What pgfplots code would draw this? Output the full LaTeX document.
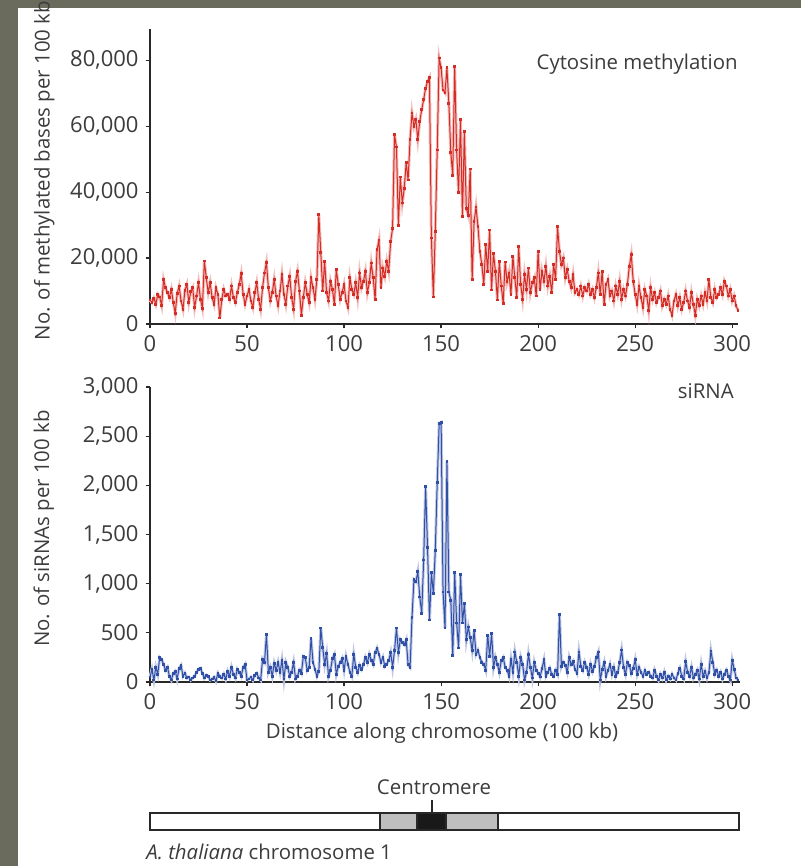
\documentclass[border=0pt]{standalone}
\usepackage{pgfplots}
\usepackage{pgfplotstable}
\pgfplotsset{compat=1.18}
\usepackage{fontspec}
\setmainfont{Open Sans}

\definecolor{mred}{RGB}{214,44,38}
\definecolor{mblue}{RGB}{48,80,168}
\definecolor{txt}{RGB}{60,60,60}
\definecolor{axline}{RGB}{40,40,40}
\definecolor{framegray}{RGB}{107,107,93}
\definecolor{cengray}{RGB}{190,190,190}

% Cytosine methylation per 100 kb window
\pgfplotstableread[row sep=\\]{
x y\\
0 7300\\ 1 6500\\ 2 7800\\ 3 6000\\ 4 9000\\ 5 8200\\ 6 5600\\ 7 13400\\ 8 11000\\ 9 9500\\
10 8000\\ 11 10500\\ 12 6500\\ 13 3300\\ 14 9200\\ 15 11500\\ 16 7000\\ 17 4500\\ 18 10200\\ 19 12000\\
20 6500\\ 21 9800\\ 22 11000\\ 23 5000\\ 24 8500\\ 25 12500\\ 26 7500\\ 27 4800\\ 28 19100\\ 29 14000\\
30 9500\\ 31 12500\\ 32 8000\\ 33 6000\\ 34 11000\\ 35 9000\\ 36 1800\\ 37 7500\\ 38 10500\\ 39 8500\\
40 9000\\ 41 7500\\ 42 11500\\ 43 8000\\ 44 6500\\ 45 9500\\ 46 12000\\ 47 15200\\ 48 9000\\ 49 6000\\
50 8500\\ 51 10500\\ 52 7000\\ 53 5000\\ 54 9500\\ 55 12500\\ 56 7500\\ 57 4500\\ 58 11000\\ 59 15500\\
60 18600\\ 61 11000\\ 62 7000\\ 63 9500\\ 64 13500\\ 65 8500\\ 66 5500\\ 67 10000\\ 68 15000\\ 69 9000\\
70 6000\\ 71 11500\\ 72 14500\\ 73 8000\\ 74 4500\\ 75 13000\\ 76 16000\\ 77 10000\\ 78 2700\\ 79 8000\\
80 12500\\ 81 9000\\ 82 6500\\ 83 14000\\ 84 11000\\ 85 7500\\ 86 13500\\ 87 33100\\ 88 21800\\ 89 10000\\
90 19000\\ 91 9500\\ 92 7000\\ 93 13000\\ 94 10500\\ 95 6000\\ 96 16500\\ 97 12000\\ 98 7500\\ 99 9500\\
100 12000\\ 101 7000\\ 102 5000\\ 103 14000\\ 104 10500\\ 105 9000\\ 106 12500\\ 107 8000\\ 108 15500\\ 109 11000\\
110 13000\\ 111 16000\\ 112 9500\\ 113 12500\\ 114 18500\\ 115 14000\\ 116 7500\\ 117 22500\\ 118 25500\\ 119 11000\\
120 17000\\ 121 14500\\ 122 19000\\ 123 16000\\ 124 25000\\ 125 29000\\ 126 57400\\ 127 53700\\ 128 30000\\ 129 44600\\
130 36700\\ 131 41000\\ 132 48900\\ 133 43700\\ 134 55900\\ 135 64000\\ 136 60000\\ 137 62000\\ 138 56000\\ 139 61500\\
140 65000\\ 141 68000\\ 142 71500\\ 143 73500\\ 144 74700\\ 145 26100\\ 146 8200\\ 147 28000\\ 148 52800\\ 149 80700\\
150 77700\\ 151 71000\\ 152 70100\\ 153 77700\\ 154 67000\\ 155 52000\\ 156 45000\\ 157 78000\\ 158 52800\\ 159 39800\\
160 62000\\ 161 32500\\ 162 58300\\ 163 35000\\ 164 33000\\ 165 47000\\ 166 13400\\ 167 31000\\ 168 35500\\ 169 29500\\
170 22000\\ 171 18000\\ 172 12000\\ 173 24000\\ 174 16000\\ 175 28500\\ 176 10300\\ 177 21500\\ 178 16000\\ 179 7300\\
180 19000\\ 181 11500\\ 182 6300\\ 183 18800\\ 184 12800\\ 185 15500\\ 186 9000\\ 187 20500\\ 188 14000\\ 189 8000\\
190 23400\\ 191 12000\\ 192 7500\\ 193 15000\\ 194 10500\\ 195 17000\\ 196 9500\\ 197 12500\\ 198 14000\\ 199 8500\\
200 21900\\ 201 10500\\ 202 16000\\ 203 13000\\ 204 17500\\ 205 11500\\ 206 14500\\ 207 9500\\ 208 18000\\ 209 13500\\
210 29500\\ 211 22000\\ 212 18000\\ 213 20000\\ 214 14000\\ 215 16500\\ 216 13000\\ 217 11000\\ 218 15000\\ 219 9500\\
220 10500\\ 221 9000\\ 222 11500\\ 223 8500\\ 224 11000\\ 225 10000\\ 226 12000\\ 227 9000\\ 228 10500\\ 229 8000\\
230 11000\\ 231 15500\\ 232 9000\\ 233 16000\\ 234 6000\\ 235 12000\\ 236 13500\\ 237 8500\\ 238 10000\\ 239 7000\\
240 11500\\ 241 9000\\ 242 13000\\ 243 7500\\ 244 10500\\ 245 8500\\ 246 12000\\ 247 17500\\ 248 21000\\ 249 13000\\
250 9000\\ 251 6000\\ 252 11500\\ 253 8000\\ 254 5000\\ 255 10500\\ 256 8500\\ 257 4000\\ 258 11000\\ 259 7500\\
260 9500\\ 261 6500\\ 262 8000\\ 263 10000\\ 264 5500\\ 265 7500\\ 266 6000\\ 267 8500\\ 268 4500\\ 269 2700\\
270 7000\\ 271 9000\\ 272 5500\\ 273 8000\\ 274 4500\\ 275 6500\\ 276 10000\\ 277 7000\\ 278 5000\\ 279 9500\\
280 6000\\ 281 2700\\ 282 7500\\ 283 5500\\ 284 8500\\ 285 6000\\ 286 9500\\ 287 7000\\ 288 13400\\ 289 8000\\
290 6500\\ 291 10500\\ 292 8000\\ 293 9000\\ 294 11000\\ 295 9000\\ 296 13000\\ 297 11500\\ 298 8500\\ 299 10500\\
300 7000\\ 301 8500\\ 302 5500\\ 303 4200\\
}\methyl

% siRNA counts per 100 kb window
\pgfplotstableread[row sep=\\]{
x y\\
0 50\\ 1 130\\ 2 20\\ 3 150\\ 4 80\\ 5 250\\ 6 230\\ 7 180\\ 8 120\\ 9 150\\
10 60\\ 11 20\\ 12 90\\ 13 110\\ 14 30\\ 15 140\\ 16 170\\ 17 60\\ 18 90\\ 19 40\\
20 50\\ 21 20\\ 22 40\\ 23 60\\ 24 100\\ 25 130\\ 26 140\\ 27 90\\ 28 40\\ 29 70\\
30 60\\ 31 20\\ 32 30\\ 33 50\\ 34 10\\ 35 90\\ 36 60\\ 37 40\\ 38 80\\ 39 30\\
40 110\\ 41 60\\ 42 150\\ 43 80\\ 44 40\\ 45 130\\ 46 100\\ 47 60\\ 48 150\\ 49 180\\
50 20\\ 51 30\\ 52 50\\ 53 20\\ 54 70\\ 55 90\\ 56 40\\ 57 20\\ 58 230\\ 59 200\\
60 480\\ 61 100\\ 62 150\\ 63 60\\ 64 190\\ 65 120\\ 66 200\\ 67 100\\ 68 220\\ 69 30\\
70 200\\ 71 150\\ 72 60\\ 73 100\\ 74 200\\ 75 30\\ 76 60\\ 77 120\\ 78 90\\ 79 260\\
80 250\\ 81 120\\ 82 150\\ 83 440\\ 84 200\\ 85 130\\ 86 60\\ 87 110\\ 88 550\\ 89 350\\
90 180\\ 91 290\\ 92 60\\ 93 120\\ 94 240\\ 95 280\\ 96 80\\ 97 160\\ 98 200\\ 99 240\\
100 120\\ 101 260\\ 102 180\\ 103 100\\ 104 60\\ 105 280\\ 106 150\\ 107 100\\ 108 170\\ 109 130\\
110 180\\ 111 250\\ 112 200\\ 113 280\\ 114 220\\ 115 180\\ 116 300\\ 117 345\\ 118 280\\ 119 200\\
120 250\\ 121 160\\ 122 180\\ 123 220\\ 124 300\\ 125 150\\ 126 320\\ 127 550\\ 128 300\\ 129 430\\
130 400\\ 131 380\\ 132 430\\ 133 175\\ 134 150\\ 135 660\\ 136 1040\\ 137 1020\\ 138 1120\\ 139 865\\
140 700\\ 141 1240\\ 142 1985\\ 143 1370\\ 144 630\\ 145 1110\\ 146 900\\ 147 1340\\ 148 2030\\ 149 2630\\
150 2640\\ 151 915\\ 152 550\\ 153 2240\\ 154 915\\ 155 830\\ 156 270\\ 157 1110\\ 158 600\\ 159 345\\
160 1090\\ 161 600\\ 162 800\\ 163 430\\ 164 560\\ 165 450\\ 166 320\\ 167 520\\ 168 280\\ 169 320\\
170 250\\ 171 200\\ 172 180\\ 173 120\\ 174 475\\ 175 260\\ 176 495\\ 177 150\\ 178 250\\ 179 180\\
180 100\\ 181 220\\ 182 250\\ 183 150\\ 184 120\\ 185 60\\ 186 230\\ 187 100\\ 188 305\\ 189 200\\
190 60\\ 191 250\\ 192 180\\ 193 20\\ 194 100\\ 195 280\\ 196 150\\ 197 40\\ 198 200\\ 199 120\\
200 90\\ 201 50\\ 202 140\\ 203 225\\ 204 60\\ 205 100\\ 206 140\\ 207 80\\ 208 60\\ 209 120\\
210 80\\ 211 690\\ 212 155\\ 213 200\\ 214 170\\ 215 100\\ 216 250\\ 217 180\\ 218 210\\ 219 130\\
220 90\\ 221 305\\ 222 160\\ 223 120\\ 224 200\\ 225 150\\ 226 80\\ 227 180\\ 228 110\\ 229 160\\
230 250\\ 231 305\\ 232 20\\ 233 130\\ 234 200\\ 235 60\\ 236 120\\ 237 180\\ 238 80\\ 239 150\\
240 60\\ 241 100\\ 242 200\\ 243 325\\ 244 150\\ 245 80\\ 246 200\\ 247 170\\ 248 90\\ 249 140\\
250 225\\ 251 80\\ 252 150\\ 253 100\\ 254 60\\ 255 120\\ 256 80\\ 257 100\\ 258 60\\ 259 40\\
260 120\\ 261 60\\ 262 20\\ 263 80\\ 264 40\\ 265 100\\ 266 20\\ 267 60\\ 268 30\\ 269 80\\
270 40\\ 271 20\\ 272 90\\ 273 140\\ 274 60\\ 275 30\\ 276 205\\ 277 100\\ 278 60\\ 279 150\\
280 40\\ 281 80\\ 282 120\\ 283 30\\ 284 180\\ 285 60\\ 286 110\\ 287 40\\ 288 100\\ 289 315\\
290 200\\ 291 80\\ 292 120\\ 293 60\\ 294 100\\ 295 30\\ 296 80\\ 297 120\\ 298 60\\ 299 20\\
300 220\\ 301 130\\ 302 40\\ 303 20\\
}\sirna

\pgfplotsset{
  panel/.style={
    scale only axis, anchor=south west, clip=false,
    xmin=0, ymin=0,
    axis x line*=bottom, axis y line*=left,
    axis line style={-, line width=0.7pt, color=axline},
    tick align=outside, major tick length=2.2pt,
    tick style={line width=0.6pt, color=axline},
    xtick={0,50,...,300},
    scaled y ticks=false,
    font=\fontsize{10.2}{12}\selectfont\color{txt},
    tick label style={font=\fontsize{11}{13}\selectfont\color{txt}},
    /pgf/number format/.cd, 1000 sep={,}, assume math mode=true,
  },
}

\begin{document}
\begin{tikzpicture}
\path[use as bounding box] (0pt,0pt) rectangle (400.5pt,-433pt);
\fill[white] (0pt,0pt) rectangle (400.5pt,-433pt);
\fill[framegray] (0pt,0pt) rectangle (9pt,-433pt);
\fill[framegray] (0pt,0pt) rectangle (400.5pt,-4pt);

\begin{axis}[panel,
  at={(75pt,-162pt)}, width=294pt, height=147.5pt,
  xmax=303, ymax=89500,
  ytick={0,20000,...,80000},
  ylabel={No. of methylated bases per 100 kb},
  ylabel style={at={(axis description cs:-0.180,0.52)}, anchor=center},
]
\addplot[mred!30, line width=1.5pt, forget plot] table {\methyl};
\addplot[mred, line width=0.5pt, mark=square*, mark size=0.45pt] table {\methyl};
\node[anchor=east, inner sep=0pt, font=\fontsize{10.2}{12}\selectfont\color{txt}] at (axis description cs:1.0,0.88) {Cytosine methylation};
\end{axis}

\begin{axis}[panel,
  at={(75pt,-341pt)}, width=295pt, height=147.5pt,
  xmax=304, ymax=3000,
  ytick={0,500,...,3000},
  ylabel={No. of siRNAs per 100 kb},
  ylabel style={at={(axis description cs:-0.180,0.52)}, anchor=center},
  xlabel={Distance along chromosome (100 kb)},
  xlabel style={at={(axis description cs:0.495,-0.173)}, anchor=center},
]
\addplot[mblue!30, line width=1.5pt, forget plot] table {\sirna};
\addplot[mblue, line width=0.5pt, mark=square*, mark size=0.45pt] table {\sirna};
\node[anchor=east, inner sep=0pt, font=\fontsize{10.2}{12}\selectfont\color{txt}] at (axis description cs:0.99,0.985) {siRNA};
\end{axis}

% chromosome schematic
\draw[line width=0.6pt, axline, fill=white] (75pt,-406.5pt) rectangle (369.5pt,-415pt);
\draw[line width=0.6pt, axline, fill=cengray] (190pt,-406.5pt) rectangle (208.5pt,-415pt);
\draw[line width=0.6pt, axline, fill=black!90] (208.5pt,-406.5pt) rectangle (223pt,-415pt);
\draw[line width=0.6pt, axline, fill=cengray] (223pt,-406.5pt) rectangle (249pt,-415pt);
\draw[line width=0.6pt, axline] (216pt,-400pt) -- (216pt,-406.5pt);
\node[font=\fontsize{10.2}{12}\selectfont\color{txt}] at (217pt,-393.5pt) {Centromere};
\node[anchor=west, inner sep=0pt, font=\fontsize{10.2}{12}\selectfont\color{txt}] at (73pt,-426pt) {\textit{A. thaliana} chromosome 1};
\end{tikzpicture}
\end{document}
